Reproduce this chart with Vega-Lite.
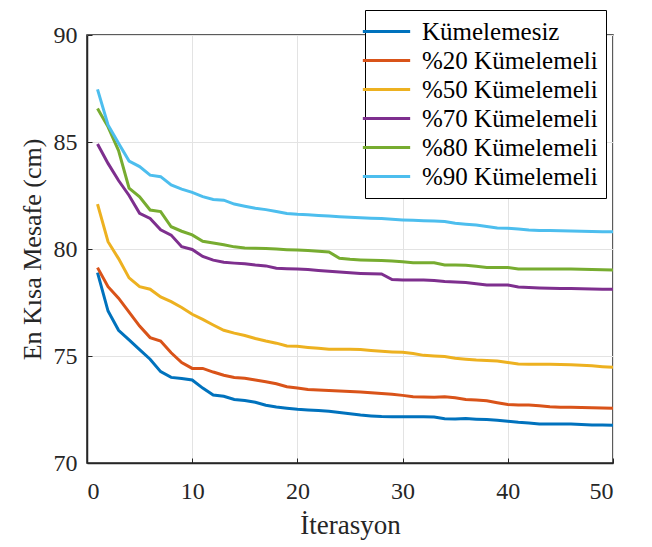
{
  "$schema": "https://vega.github.io/schema/vega-lite/v6.json",
  "width": 526,
  "height": 428,
  "autosize": {"type": "none"},
  "padding": {"left": 87, "top": 35, "right": 39, "bottom": 84},
  "background": "white",
  "config": {
    "view": {"stroke": "#262626", "strokeWidth": 1.5},
    "font": "Liberation Serif"
  },
  "data": {
    "values": [
      {"i":1,"Kümelemesiz":78.9,"%20 Kümelemeli":79.13,"%50 Kümelemeli":82.1,"%70 Kümelemeli":84.91,"%80 Kümelemeli":86.57,"%90 Kümelemeli":87.46},
      {"i":2,"Kümelemesiz":77.1,"%20 Kümelemeli":78.24,"%50 Kümelemeli":80.34,"%70 Kümelemeli":84.0,"%80 Kümelemeli":85.71,"%90 Kümelemeli":85.8},
      {"i":3,"Kümelemesiz":76.2,"%20 Kümelemeli":77.7,"%50 Kümelemeli":79.55,"%70 Kümelemeli":83.2,"%80 Kümelemeli":84.6,"%90 Kümelemeli":84.94},
      {"i":4,"Kümelemesiz":75.75,"%20 Kümelemeli":77.05,"%50 Kümelemeli":78.65,"%70 Kümelemeli":82.5,"%80 Kümelemeli":82.84,"%90 Kümelemeli":84.11},
      {"i":5,"Kümelemesiz":75.3,"%20 Kümelemeli":76.4,"%50 Kümelemeli":78.24,"%70 Kümelemeli":81.67,"%80 Kümelemeli":82.44,"%90 Kümelemeli":83.85},
      {"i":6,"Kümelemesiz":74.85,"%20 Kümelemeli":75.86,"%50 Kümelemeli":78.12,"%70 Kümelemeli":81.43,"%80 Kümelemeli":81.82,"%90 Kümelemeli":83.45},
      {"i":7,"Kümelemesiz":74.27,"%20 Kümelemeli":75.7,"%50 Kümelemeli":77.76,"%70 Kümelemeli":80.9,"%80 Kümelemeli":81.75,"%90 Kümelemeli":83.38},
      {"i":8,"Kümelemesiz":74.0,"%20 Kümelemeli":75.15,"%50 Kümelemeli":77.54,"%70 Kümelemeli":80.65,"%80 Kümelemeli":81.04,"%90 Kümelemeli":82.99},
      {"i":9,"Kümelemesiz":73.95,"%20 Kümelemeli":74.69,"%50 Kümelemeli":77.27,"%70 Kümelemeli":80.11,"%80 Kümelemeli":80.83,"%90 Kümelemeli":82.8},
      {"i":10,"Kümelemesiz":73.88,"%20 Kümelemeli":74.42,"%50 Kümelemeli":76.95,"%70 Kümelemeli":79.98,"%80 Kümelemeli":80.66,"%90 Kümelemeli":82.65},
      {"i":11,"Kümelemesiz":73.5,"%20 Kümelemeli":74.42,"%50 Kümelemeli":76.71,"%70 Kümelemeli":79.65,"%80 Kümelemeli":80.36,"%90 Kümelemeli":82.45},
      {"i":12,"Kümelemesiz":73.18,"%20 Kümelemeli":74.25,"%50 Kümelemeli":76.45,"%70 Kümelemeli":79.48,"%80 Kümelemeli":80.28,"%90 Kümelemeli":82.31},
      {"i":13,"Kümelemesiz":73.12,"%20 Kümelemeli":74.1,"%50 Kümelemeli":76.2,"%70 Kümelemeli":79.38,"%80 Kümelemeli":80.2,"%90 Kümelemeli":82.28},
      {"i":14,"Kümelemesiz":72.97,"%20 Kümelemeli":74.0,"%50 Kümelemeli":76.07,"%70 Kümelemeli":79.34,"%80 Kümelemeli":80.1,"%90 Kümelemeli":82.1},
      {"i":15,"Kümelemesiz":72.92,"%20 Kümelemeli":73.96,"%50 Kümelemeli":75.96,"%70 Kümelemeli":79.31,"%80 Kümelemeli":80.05,"%90 Kümelemeli":82.0},
      {"i":16,"Kümelemesiz":72.84,"%20 Kümelemeli":73.88,"%50 Kümelemeli":75.82,"%70 Kümelemeli":79.25,"%80 Kümelemeli":80.03,"%90 Kümelemeli":81.9},
      {"i":17,"Kümelemesiz":72.7,"%20 Kümelemeli":73.8,"%50 Kümelemeli":75.7,"%70 Kümelemeli":79.21,"%80 Kümelemeli":80.02,"%90 Kümelemeli":81.84},
      {"i":18,"Kümelemesiz":72.62,"%20 Kümelemeli":73.7,"%50 Kümelemeli":75.6,"%70 Kümelemeli":79.1,"%80 Kümelemeli":80.0,"%90 Kümelemeli":81.75},
      {"i":19,"Kümelemesiz":72.56,"%20 Kümelemeli":73.56,"%50 Kümelemeli":75.47,"%70 Kümelemeli":79.08,"%80 Kümelemeli":79.97,"%90 Kümelemeli":81.66},
      {"i":20,"Kümelemesiz":72.51,"%20 Kümelemeli":73.5,"%50 Kümelemeli":75.45,"%70 Kümelemeli":79.07,"%80 Kümelemeli":79.95,"%90 Kümelemeli":81.62},
      {"i":21,"Kümelemesiz":72.48,"%20 Kümelemeli":73.43,"%50 Kümelemeli":75.4,"%70 Kümelemeli":79.04,"%80 Kümelemeli":79.93,"%90 Kümelemeli":81.6},
      {"i":22,"Kümelemesiz":72.45,"%20 Kümelemeli":73.41,"%50 Kümelemeli":75.36,"%70 Kümelemeli":79.0,"%80 Kümelemeli":79.9,"%90 Kümelemeli":81.57},
      {"i":23,"Kümelemesiz":72.42,"%20 Kümelemeli":73.39,"%50 Kümelemeli":75.31,"%70 Kümelemeli":78.96,"%80 Kümelemeli":79.86,"%90 Kümelemeli":81.54},
      {"i":24,"Kümelemesiz":72.36,"%20 Kümelemeli":73.37,"%50 Kümelemeli":75.31,"%70 Kümelemeli":78.92,"%80 Kümelemeli":79.57,"%90 Kümelemeli":81.51},
      {"i":25,"Kümelemesiz":72.3,"%20 Kümelemeli":73.34,"%50 Kümelemeli":75.31,"%70 Kümelemeli":78.89,"%80 Kümelemeli":79.52,"%90 Kümelemeli":81.48},
      {"i":26,"Kümelemesiz":72.24,"%20 Kümelemeli":73.32,"%50 Kümelemeli":75.3,"%70 Kümelemeli":78.86,"%80 Kümelemeli":79.49,"%90 Kümelemeli":81.46},
      {"i":27,"Kümelemesiz":72.2,"%20 Kümelemeli":73.28,"%50 Kümelemeli":75.26,"%70 Kümelemeli":78.84,"%80 Kümelemeli":79.47,"%90 Kümelemeli":81.44},
      {"i":28,"Kümelemesiz":72.17,"%20 Kümelemeli":73.25,"%50 Kümelemeli":75.22,"%70 Kümelemeli":78.83,"%80 Kümelemeli":79.46,"%90 Kümelemeli":81.43},
      {"i":29,"Kümelemesiz":72.16,"%20 Kümelemeli":73.21,"%50 Kümelemeli":75.19,"%70 Kümelemeli":78.57,"%80 Kümelemeli":79.44,"%90 Kümelemeli":81.39},
      {"i":30,"Kümelemesiz":72.16,"%20 Kümelemeli":73.16,"%50 Kümelemeli":75.17,"%70 Kümelemeli":78.55,"%80 Kümelemeli":79.4,"%90 Kümelemeli":81.36},
      {"i":31,"Kümelemesiz":72.16,"%20 Kümelemeli":73.1,"%50 Kümelemeli":75.12,"%70 Kümelemeli":78.55,"%80 Kümelemeli":79.36,"%90 Kümelemeli":81.34},
      {"i":32,"Kümelemesiz":72.16,"%20 Kümelemeli":73.08,"%50 Kümelemeli":75.03,"%70 Kümelemeli":78.55,"%80 Kümelemeli":79.36,"%90 Kümelemeli":81.32},
      {"i":33,"Kümelemesiz":72.15,"%20 Kümelemeli":73.07,"%50 Kümelemeli":75.0,"%70 Kümelemeli":78.53,"%80 Kümelemeli":79.36,"%90 Kümelemeli":81.31},
      {"i":34,"Kümelemesiz":72.07,"%20 Kümelemeli":73.09,"%50 Kümelemeli":74.98,"%70 Kümelemeli":78.48,"%80 Kümelemeli":79.25,"%90 Kümelemeli":81.28},
      {"i":35,"Kümelemesiz":72.06,"%20 Kümelemeli":73.05,"%50 Kümelemeli":74.9,"%70 Kümelemeli":78.46,"%80 Kümelemeli":79.25,"%90 Kümelemeli":81.2},
      {"i":36,"Kümelemesiz":72.08,"%20 Kümelemeli":72.97,"%50 Kümelemeli":74.85,"%70 Kümelemeli":78.43,"%80 Kümelemeli":79.24,"%90 Kümelemeli":81.16},
      {"i":37,"Kümelemesiz":72.05,"%20 Kümelemeli":72.94,"%50 Kümelemeli":74.81,"%70 Kümelemeli":78.38,"%80 Kümelemeli":79.19,"%90 Kümelemeli":81.12},
      {"i":38,"Kümelemesiz":72.03,"%20 Kümelemeli":72.91,"%50 Kümelemeli":74.79,"%70 Kümelemeli":78.32,"%80 Kümelemeli":79.14,"%90 Kümelemeli":81.05},
      {"i":39,"Kümelemesiz":72.0,"%20 Kümelemeli":72.82,"%50 Kümelemeli":74.77,"%70 Kümelemeli":78.32,"%80 Kümelemeli":79.14,"%90 Kümelemeli":80.98},
      {"i":40,"Kümelemesiz":71.95,"%20 Kümelemeli":72.73,"%50 Kümelemeli":74.7,"%70 Kümelemeli":78.32,"%80 Kümelemeli":79.14,"%90 Kümelemeli":80.97},
      {"i":41,"Kümelemesiz":71.9,"%20 Kümelemeli":72.71,"%50 Kümelemeli":74.63,"%70 Kümelemeli":78.22,"%80 Kümelemeli":79.07,"%90 Kümelemeli":80.93},
      {"i":42,"Kümelemesiz":71.87,"%20 Kümelemeli":72.71,"%50 Kümelemeli":74.62,"%70 Kümelemeli":78.2,"%80 Kümelemeli":79.07,"%90 Kümelemeli":80.89},
      {"i":43,"Kümelemesiz":71.82,"%20 Kümelemeli":72.68,"%50 Kümelemeli":74.61,"%70 Kümelemeli":78.18,"%80 Kümelemeli":79.07,"%90 Kümelemeli":80.87},
      {"i":44,"Kümelemesiz":71.82,"%20 Kümelemeli":72.63,"%50 Kümelemeli":74.61,"%70 Kümelemeli":78.17,"%80 Kümelemeli":79.07,"%90 Kümelemeli":80.86},
      {"i":45,"Kümelemesiz":71.82,"%20 Kümelemeli":72.61,"%50 Kümelemeli":74.6,"%70 Kümelemeli":78.16,"%80 Kümelemeli":79.07,"%90 Kümelemeli":80.85},
      {"i":46,"Kümelemesiz":71.82,"%20 Kümelemeli":72.6,"%50 Kümelemeli":74.59,"%70 Kümelemeli":78.15,"%80 Kümelemeli":79.06,"%90 Kümelemeli":80.84},
      {"i":47,"Kümelemesiz":71.8,"%20 Kümelemeli":72.59,"%50 Kümelemeli":74.57,"%70 Kümelemeli":78.14,"%80 Kümelemeli":79.05,"%90 Kümelemeli":80.83},
      {"i":48,"Kümelemesiz":71.78,"%20 Kümelemeli":72.58,"%50 Kümelemeli":74.54,"%70 Kümelemeli":78.13,"%80 Kümelemeli":79.04,"%90 Kümelemeli":80.82},
      {"i":49,"Kümelemesiz":71.77,"%20 Kümelemeli":72.57,"%50 Kümelemeli":74.5,"%70 Kümelemeli":78.12,"%80 Kümelemeli":79.03,"%90 Kümelemeli":80.81},
      {"i":50,"Kümelemesiz":71.76,"%20 Kümelemeli":72.56,"%50 Kümelemeli":74.47,"%70 Kümelemeli":78.12,"%80 Kümelemeli":79.02,"%90 Kümelemeli":80.81}
    ]
  },
  "transform": [
    {"fold": ["Kümelemesiz", "%20 Kümelemeli", "%50 Kümelemeli", "%70 Kümelemeli", "%80 Kümelemeli", "%90 Kümelemeli"], "as": ["seri", "deger"]}
  ],
  "mark": {"type": "line", "strokeWidth": 3, "clip": true},
  "encoding": {
    "x": {
      "field": "i", "type": "quantitative",
      "scale": {"domain": [0, 50], "nice": false},
      "axis": {
        "title": "İterasyon", "values": [0, 10, 20, 30, 40, 50],
        "titleFont": "Liberation Serif", "titleFontSize": 27, "titleFontWeight": "normal", "titleColor": "#262626", "titlePadding": 9,
        "labelFont": "Liberation Serif", "labelFontSize": 24, "labelColor": "#262626", "labelPadding": 21,
        "tickSize": -5, "tickColor": "#262626", "domainColor": "#262626", "domainWidth": 1.5,
        "grid": true, "gridColor": "#e3e3e3", "gridWidth": 1
      }
    },
    "y": {
      "field": "deger", "type": "quantitative",
      "scale": {"domain": [70, 90], "nice": false, "zero": false},
      "axis": {
        "title": "En Kısa Mesafe (cm)", "values": [70, 75, 80, 85, 90],
        "titleFont": "Liberation Serif", "titleFontSize": 26, "titleFontWeight": "normal", "titleColor": "#262626", "titlePadding": 8,
        "labelFont": "Liberation Serif", "labelFontSize": 24, "labelColor": "#262626", "labelPadding": 15,
        "tickSize": -5, "tickColor": "#262626", "domainColor": "#262626", "domainWidth": 1.5,
        "grid": true, "gridColor": "#e3e3e3", "gridWidth": 1
      }
    },
    "color": {
      "field": "seri", "type": "nominal",
      "scale": {
        "domain": ["Kümelemesiz", "%20 Kümelemeli", "%50 Kümelemeli", "%70 Kümelemeli", "%80 Kümelemeli", "%90 Kümelemeli"],
        "range": ["#0072BD", "#D95319", "#EDB120", "#7E2F8E", "#77AC30", "#4DBEEE"]
      },
      "legend": {
        "title": null, "orient": "none", "legendX": 278, "legendY": -25,
        "symbolType": "M-2,0L2,0", "symbolSize": 560, "symbolStrokeWidth": 3,
        "labelFont": "Liberation Serif", "labelFontSize": 25, "labelColor": "black", "labelLimit": 300,
        "labelOffset": 22, "rowPadding": 2,
        "strokeColor": "black", "fillColor": "white", "padding": 8, "offset": 0
      }
    }
  }
}
